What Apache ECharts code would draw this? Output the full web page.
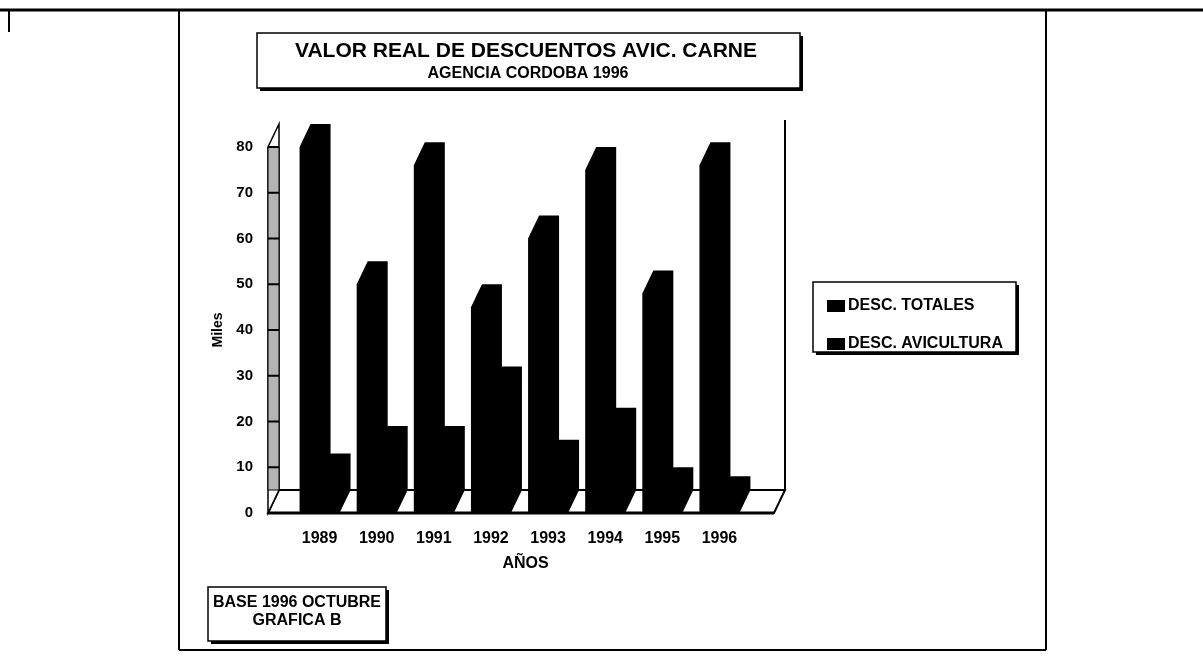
<!DOCTYPE html>
<html>
<head>
<meta charset="utf-8">
<title>Valor real de descuentos</title>
<script src="https://cdn.jsdelivr.net/npm/echarts@6/dist/echarts.min.js"></script>
<style>
  html, body { margin: 0; padding: 0; background: #fff; }
  #main { width: 1203px; height: 662px; }
</style>
</head>
<body>
<div id="main"></div>
<script>
// datos (miles)
const years = ['1989', '1990', '1991', '1992', '1993', '1994', '1995', '1996']
const descTotales = [80, 50, 76, 45, 60, 75, 48, 76]
const descAvicultura = [8, 14, 14, 27, 11, 18, 5, 3]
const yMin = 0
const yMax = 80
const yStep = 10

// falso 3d: desplazamiento de la profundidad en px
const DX = 11
const DY = 23
const FONT = 'Liberation Sans, Arial, sans-serif'

function barRender(slot) {
  return function (params, api) {
    const i = api.value(0)
    const base = api.coord([i, 0])
    const top = api.coord([i, api.value(1)])
    const w = api.size([1, 0])[0] * 0.35
    const x0 = base[0] - w + slot * w
    const y0 = base[1]
    const yv = top[1]
    return {
      type: 'polygon',
      shape: {
        points: [
          [x0, y0], [x0, yv], [x0 + DX, yv - DY],
          [x0 + w + DX, yv - DY], [x0 + w + DX, y0 - DY], [x0 + w, y0]
        ]
      },
      style: { fill: '#000' }
    }
  }
}

// piso y pared izquierda
function frameRender(params, api) {
  const cs = params.coordSys
  const y0 = api.coord([0, yMin])[1]
  const yTop = api.coord([0, yMax])[1]
  const fl = cs.x - 23
  const fr = cs.x + cs.width + 26
  const children = [
    {
      type: 'polygon',
      shape: { points: [[fl, y0], [fr, y0], [fr + DX, y0 - DY], [fl + DX, y0 - DY]] },
      style: { fill: '#fff', stroke: '#000', lineWidth: 2 }
    },
    {
      type: 'polygon',
      shape: { points: [[fl, y0], [fl, yTop], [fl + DX, yTop - DY], [fl + DX, y0 - DY]] },
      style: { fill: '#fff', stroke: '#000', lineWidth: 1.5 }
    },
    {
      type: 'rect',
      shape: { x: fl, y: yTop, width: DX, height: y0 - DY - yTop },
      style: { fill: '#b4b4b4', stroke: '#000', lineWidth: 1 }
    },
    {
      type: 'line',
      shape: { x1: fl, y1: y0, x2: fr, y2: y0 },
      style: { stroke: '#000', lineWidth: 3 }
    },
    {
      type: 'line',
      shape: { x1: fr + DX, y1: y0 - DY, x2: fr + DX, y2: yTop - DY - 4 },
      style: { stroke: '#000', lineWidth: 2 }
    }
  ]
  for (let v = yMin + yStep; v <= yMax; v += yStep) {
    const y = api.coord([0, v])[1]
    children.push({
      type: 'line',
      shape: { x1: fl, y1: y, x2: fl + DX, y2: y },
      style: { stroke: '#000', lineWidth: 2 }
    })
  }
  return { type: 'group', children: children }
}

function shadowBox(x, y, w, h) {
  return [
    { type: 'rect', shape: { x: x + 3, y: y + 3, width: w, height: h }, style: { fill: '#000' } },
    { type: 'rect', shape: { x: x, y: y, width: w, height: h }, style: { fill: '#fff', stroke: '#000', lineWidth: 1.5 } }
  ]
}

function label(text, x, y, size) {
  return {
    type: 'text', x: x, y: y,
    style: { text: text, fill: '#000', font: 'bold ' + size + 'px ' + FONT, align: 'center', verticalAlign: 'middle' }
  }
}

function line(x1, y1, x2, y2, lw) {
  return { type: 'line', shape: { x1, y1, x2, y2 }, style: { stroke: '#000', lineWidth: lw } }
}

const myChart = echarts.init(document.getElementById('main'))

const option = {
  backgroundColor: '#fff',
  animation: false,
  grid: { left: 291, right: 455, top: 147, bottom: 149 },
  legend: {
    orient: 'vertical',
    left: 822,
    top: 293,
    icon: 'rect',
    itemWidth: 18,
    itemHeight: 12,
    itemGap: 22,
    textStyle: { color: '#000', fontFamily: FONT, fontWeight: 'bold', fontSize: 16, padding: [0, 0, 0, -2] },
    data: ['DESC. TOTALES', 'DESC. AVICULTURA']
  },
  xAxis: {
    type: 'category',
    data: years,
    name: 'AÑOS',
    nameLocation: 'middle',
    nameGap: 43,
    nameTextStyle: { color: '#000', fontFamily: FONT, fontWeight: 'bold', fontSize: 16, padding: [0, 0, 0, 12] },
    axisLine: { show: false },
    axisTick: { show: false },
    axisLabel: { margin: 18, color: '#000', fontFamily: FONT, fontWeight: 'bold', fontSize: 16 }
  },
  yAxis: {
    type: 'value',
    min: yMin,
    max: yMax,
    interval: yStep,
    name: 'Miles',
    nameLocation: 'middle',
    nameRotate: 90,
    nameGap: 66,
    nameTextStyle: { color: '#000', fontFamily: FONT, fontWeight: 'bold', fontSize: 14 },
    axisLine: { show: false },
    axisTick: { show: false },
    splitLine: { show: false },
    axisLabel: { margin: 38, color: '#000', fontFamily: FONT, fontWeight: 'bold', fontSize: 15 }
  },
  graphic: [
    line(0, 10, 1203, 10, 3),
    line(9, 10, 9, 32, 2),
    line(179, 10, 179, 650, 2),
    line(1046, 10, 1046, 650, 2),
    line(179, 650, 1046, 650, 2),
    ...shadowBox(257, 33, 543, 55),
    label('VALOR REAL DE DESCUENTOS AVIC. CARNE', 526, 51, 21),
    label('AGENCIA CORDOBA 1996', 528, 74, 16),
    ...shadowBox(813, 282, 203, 70),
    ...shadowBox(208, 587, 178, 54),
    label('BASE 1996 OCTUBRE', 297, 603, 16),
    label('GRAFICA B', 297, 621, 16)
  ],
  series: [
    {
      type: 'custom',
      name: 'marco',
      silent: true,
      clip: false,
      z: 1,
      renderItem: frameRender,
      data: [[0, 0]]
    },
    {
      type: 'custom',
      name: 'DESC. TOTALES',
      clip: false,
      z: 2,
      itemStyle: { color: '#000' },
      encode: { x: 0, y: 1 },
      renderItem: barRender(0),
      data: years.map((y, i) => [i, descTotales[i]])
    },
    {
      type: 'custom',
      name: 'DESC. AVICULTURA',
      clip: false,
      z: 2,
      itemStyle: { color: '#000' },
      encode: { x: 0, y: 1 },
      renderItem: barRender(1),
      data: years.map((y, i) => [i, descAvicultura[i]])
    }
  ]
}

myChart.setOption(option)
</script>
</body>
</html>
